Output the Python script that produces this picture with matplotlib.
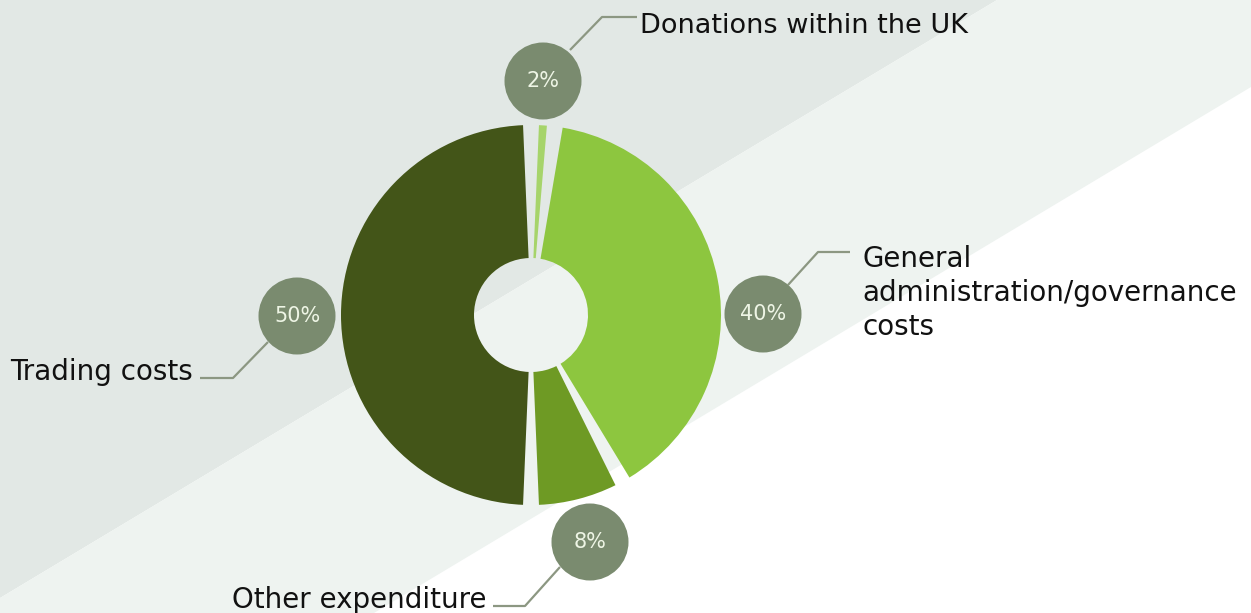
import matplotlib
matplotlib.use('Agg')
import matplotlib.pyplot as plt
from matplotlib.patches import Polygon, Circle

# data
labels = ['Donations within the UK', 'General\nadministration/governance\ncosts',
          'Other expenditure', 'Trading costs']
values = [2, 40, 8, 50]
pct_text = ['2%', '40%', '8%', '50%']
colors = ['#a6d46a', '#8dc63f', '#6e9a24', '#435518']

W, H = 1251, 613
fig = plt.figure(figsize=(W / 100, H / 100), dpi=100)
ax = fig.add_axes([0, 0, 1, 1])

def fy(y):
    # image y (top down) -> axis y
    return H - y

# background bands
ax.add_patch(Polygon([(0, fy(0)), (997, fy(0)), (0, fy(598))], closed=True,
                     facecolor='#e2e8e5', edgecolor='none', zorder=0))
ax.add_patch(Polygon([(997, fy(0)), (W, fy(0)), (W, fy(87)), (374, fy(613)),
                      (0, fy(613)), (0, fy(598))], closed=True,
                     facecolor='#eef3f0', edgecolor='none', zorder=0))

# donut
cx, cy, R, r_in = 531, fy(315), 190, 57
gap = 4.8  # degrees between wedges
wedges, _ = ax.pie(values, colors=colors, startangle=90, counterclock=False,
                   center=(cx, cy), radius=R,
                   wedgeprops=dict(width=R - r_in, edgecolor='none'))
for w in wedges:
    w.set_theta1(w.theta1 + gap / 2)
    w.set_theta2(w.theta2 - gap / 2)

# percentage bubbles
bubble_xy = [(543, 81), (763, 314), (590, 542), (297, 316)]
for (bx, by), t in zip(bubble_xy, pct_text):
    ax.add_patch(Circle((bx, fy(by)), 38.5, facecolor='#7a8b6f', edgecolor='none', zorder=3))
    ax.text(bx, fy(by), t, ha='center', va='center', fontsize=15,
            color='#eef5e5', zorder=4)

# leader lines
leaders = [[(570, 50), (602, 17), (637, 17)],
           [(788, 285), (818, 252), (850, 252)],
           [(560, 567), (525, 606), (493, 606)],
           [(268, 342), (233, 378), (200, 378)]]
for pts in leaders:
    ax.plot([p[0] for p in pts], [fy(p[1]) for p in pts], color='#8c9782',
            lw=1.6, zorder=2, solid_capstyle='butt')

# labels
ax.text(640, fy(33), labels[0], ha='left', va='baseline', fontsize=19.5, color='#111111')
ax.text(862, fy(335), labels[1], ha='left', va='baseline', fontsize=20, color='#111111',
        linespacing=1.27)
ax.text(487, fy(608), labels[2], ha='right', va='baseline', fontsize=20, color='#111111')
ax.text(193, fy(380), labels[3], ha='right', va='baseline', fontsize=20, color='#111111')

ax.set_xlim(0, W)
ax.set_ylim(0, H)
ax.set_aspect('equal')
ax.axis('off')
fig.patch.set_facecolor('white')

plt.savefig('out.png', dpi=100, facecolor='white')
